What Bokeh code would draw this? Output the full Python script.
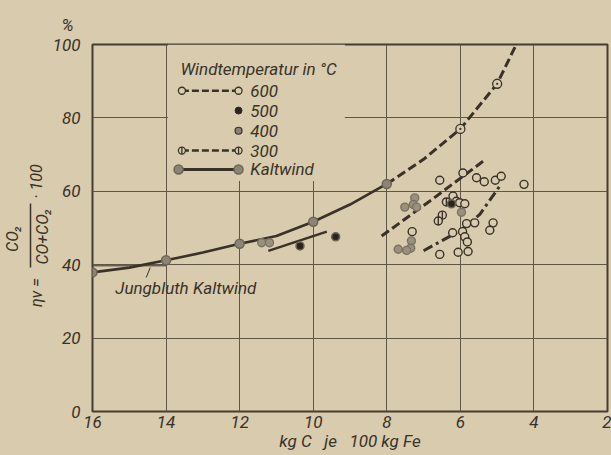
import math
from bokeh.plotting import figure
from bokeh.models import Range1d, FixedTicker, Label, LinearAxis, GlobalInlineStyleSheet
from bokeh.embed import file_html
from bokeh.resources import INLINE

BG = "#d8cbae"
INK = "#3a3229"
GRID = "#5f5648"
FONT = "Roboto"

# ---------------- data ----------------
x_ticks = [16, 14, 12, 10, 8, 6, 4, 2]
y_ticks = [0, 20, 40, 60, 80, 100]

# Kaltwind curve (solid) and its markers
kalt_x = [16, 15, 14, 13, 12, 11, 10, 9, 8]
kalt_y = [37.9, 39.2, 41.2, 43.3, 45.7, 47.8, 51.7, 56.4, 62.0]
kalt_mx = [16, 14, 12, 10, 8]
kalt_my = [37.9, 41.2, 45.7, 51.7, 62.0]

# 600 °C dashed curve continuing the Kaltwind curve
c600_x = [8, 7, 6, 5, 4.48]
c600_y = [62.0, 68.7, 77.0, 89.3, 100]
c600_mx = [6, 5]
c600_my = [77.0, 89.3]

# 300 °C dashed line
c300_x = [8.14, 6.74, 5.38]
c300_y = [47.8, 58.0, 68.2]

# dash-dot line
cdd_x = [7.0, 6.02, 5.47, 4.89]
cdd_y = [43.8, 49.2, 53.7, 62.0]

# short solid line
short_x = [11.22, 9.63]
short_y = [43.75, 49.0]

# Jungbluth Kaltwind line
jung_x = [16, 14]
jung_y = [39.7, 39.7]

# scatter points by wind temperature
p600_x = [6.56, 5.93, 5.56, 5.35, 5.05, 4.89, 4.27, 6.20, 6.11, 6.02, 5.88,
          7.31, 5.83, 5.61, 5.11, 5.20, 6.21, 5.94, 5.88, 5.81, 6.56, 6.06, 5.79]
p600_y = [63.0, 65.0, 63.7, 62.6, 63.0, 64.1, 61.9, 58.7, 57.3, 56.9, 56.6,
          49.0, 51.2, 51.4, 51.4, 49.4, 48.7, 49.0, 47.6, 46.2, 42.8, 43.4, 43.6]
p500_x = [6.24, 10.36, 9.39]
p500_y = [56.6, 45.1, 47.6]
p400_x = [7.24, 7.28, 7.51, 7.19, 5.97, 7.33, 7.35, 7.69, 7.46, 11.40, 11.19]
p400_y = [58.2, 56.4, 55.7, 55.7, 54.3, 46.5, 44.5, 44.2, 43.9, 46.0, 46.0]
p300_x = [6.38, 6.49, 6.60]
p300_y = [57.1, 53.5, 51.9]

legend_labels = ["600", "500", "400", "300", "Kaltwind"]
legend_title = "Windtemperatur in °C"
x_title = "kg C\u00a0\u00a0\u00a0je\u00a0\u00a0\u00a0100 kg Fe"
y_unit = "%"
# y-axis formula pieces (positions on a 0..1000 helper scale = y*10)
eta_text, num_text, den_text, mul_text = "ηv =", "CO₂", "CO+CO₂", "· 100"
eta_pos, num_pos, den_pos, mul_pos = 324, 471, 477, 627
bar_bounds = (392, 567)

# ---------------- figure ----------------
p = figure(width=611, height=455, x_range=Range1d(16, 2), y_range=Range1d(0, 100),
           output_backend="svg", toolbar_location=None,
           min_border_left=92, min_border_right=4, min_border_top=44, min_border_bottom=44,
           background_fill_color=BG, border_fill_color=BG)
p.stylesheets = [GlobalInlineStyleSheet(css="body{background:%s;}" % BG)]
p.outline_line_color = "#463d32"
p.outline_line_width = 2
p.extra_y_ranges = {"lab": Range1d(0, 1000)}

for ax, ticks in ((p.xaxis, x_ticks), (p.yaxis, y_ticks)):
    ax.ticker = FixedTicker(ticks=ticks)
    ax.axis_line_color = None
    ax.major_tick_line_color = None
    ax.minor_tick_line_color = None
    ax.major_tick_out = 0
    ax.major_tick_in = 0
    ax.minor_tick_out = 0
    ax.major_label_text_font = FONT
    ax.major_label_text_font_style = "italic"
    ax.major_label_text_font_size = "17px"
    ax.major_label_text_color = INK
p.xaxis.major_label_standoff = 4
p.yaxis.major_label_standoff = 12
p.xaxis.axis_label = x_title
p.xaxis.axis_label_standoff = 0
p.xaxis.axis_label_text_font = FONT
p.xaxis.axis_label_text_font_style = "italic"
p.xaxis.axis_label_text_font_size = "17px"
p.xaxis.axis_label_text_color = INK

# "%" above the y axis as title
p.title.text = y_unit
p.title.align = "left"
p.title.offset = -31
p.title.standoff = 19
p.title.text_font = FONT
p.title.text_font_style = "italic"
p.title.text_font_size = "17px"
p.title.text_color = INK


def lab_axis(ticks, overrides, standoff, line=False):
    ax = LinearAxis(y_range_name="lab", ticker=FixedTicker(ticks=ticks),
                    major_label_overrides=overrides, major_label_orientation="vertical",
                    major_label_standoff=standoff, major_tick_line_color=None,
                    minor_tick_line_color=None, major_tick_out=0, major_tick_in=0,
                    minor_tick_out=0, minor_tick_in=0,
                    axis_line_color=INK if line else None, axis_line_width=1.5,
                    major_label_text_font=FONT, major_label_text_font_style="italic",
                    major_label_text_font_size="16px", major_label_text_color=INK)
    if line:
        ax.bounds = bar_bounds
    return ax


p.add_layout(lab_axis([den_pos], {den_pos: den_text}, -3), "left")
p.add_layout(lab_axis([eta_pos, mul_pos], {eta_pos: eta_text, mul_pos: mul_text}, -16, line=True), "left")
p.add_layout(lab_axis([num_pos], {num_pos: num_text}, 2), "left")

p.xgrid.ticker = FixedTicker(ticks=x_ticks)
p.ygrid.ticker = FixedTicker(ticks=y_ticks)
for g in (p.xgrid, p.ygrid):
    g.grid_line_color = GRID
    g.grid_line_width = 1

# legend background masking the grid
p.quad(left=[13.95], right=[9.14], bottom=[62.8], top=[100], fill_color=BG, line_color=None)

# curves
p.line(jung_x, jung_y, line_color=INK, line_width=1)
p.line(kalt_x, kalt_y, line_color=INK, line_width=2.6)
p.line(c600_x, c600_y, line_color=INK, line_width=3, line_dash="9 4")
p.line(c300_x, c300_y, line_color=INK, line_width=3, line_dash="9 4")
p.line(cdd_x, cdd_y, line_color=INK, line_width=3, line_dash="10 4 3 4")
p.line(short_x, short_y, line_color=INK, line_width=2.5)

# leader line of Jungbluth label
p.line([14.43, 14.54], [39.2, 36.5], line_color=INK, line_width=1)

# markers
p.scatter(kalt_mx, kalt_my, size=9, marker="circle", fill_color="#8d8474", line_color="#6d6558", line_width=1.5)
p.scatter(c600_mx, c600_my, size=9, marker="circle_dot", fill_color=BG, line_color=INK, line_width=1.3)
p.scatter(p600_x, p600_y, size=8, marker="circle", fill_color=BG, line_color=INK, line_width=1.4)
p.scatter(p400_x, p400_y, size=8, marker="circle", fill_color="#9a907e", line_color="#7b7262", line_width=1.4)
p.scatter(p300_x, p300_y, size=8, marker="circle", fill_color=BG, line_color=INK, line_width=1.4)
p.scatter(p300_x, p300_y, size=8, marker="dash", angle=math.pi / 2, line_color=INK, line_width=1.4)
p.scatter(p500_x, p500_y, size=8, marker="circle", fill_color="#2a241d", line_color="#6d6558", line_width=1.5)

# legend (drawn by hand)
row_y = [87.4, 82.0, 76.5, 71.1, 65.95]
lx0, lx1, ltx = 13.57, 12.03, 11.71
txt = dict(text_font=FONT, text_font_style="italic", text_font_size="17px", text_color=INK,
           text_baseline="middle")
p.add_layout(Label(x=13.61, y=93.2, text=legend_title, **txt))
p.line([lx0, lx1], [row_y[0]] * 2, line_color=INK, line_width=2.5, line_dash="7 3")
p.scatter([lx0, lx1], [row_y[0]] * 2, size=7, marker="circle", fill_color=BG, line_color=INK, line_width=1.3)
p.scatter([lx1], [row_y[1]], size=7, marker="circle", fill_color="#2a241d", line_color=INK)
p.scatter([lx1], [row_y[2]], size=7, marker="circle", fill_color="#8a8070", line_color=INK, line_width=1.2)
p.line([lx0, lx1], [row_y[3]] * 2, line_color=INK, line_width=2.5, line_dash="7 3")
p.scatter([lx0, lx1], [row_y[3]] * 2, size=7, marker="circle", fill_color=BG, line_color=INK, line_width=1.3)
p.scatter([lx0, lx1], [row_y[3]] * 2, size=7, marker="dash", angle=math.pi / 2, line_color=INK, line_width=1.3)
p.line([13.66, lx1], [row_y[4]] * 2, line_color=INK, line_width=3)
p.scatter([13.66, lx1], [row_y[4]] * 2, size=9, marker="circle", fill_color="#8d8474", line_color="#6d6558", line_width=1.5)
for lab, yy in zip(legend_labels, row_y):
    p.add_layout(Label(x=ltx, y=yy, text=lab, **txt))

p.add_layout(Label(x=15.38, y=33.7, text="Jungbluth Kaltwind", **txt))

open("out.html", "w").write(file_html(p, INLINE))
